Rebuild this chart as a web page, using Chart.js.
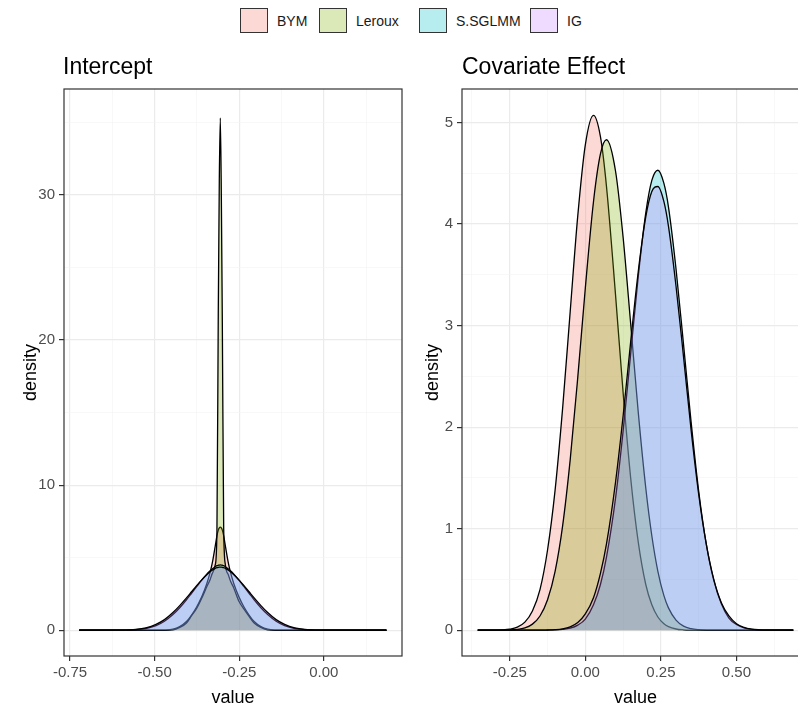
<!DOCTYPE html>
<html>
<head>
<meta charset="utf-8">
<script src="https://cdn.jsdelivr.net/npm/chart.js@4.4.1/dist/chart.umd.min.js"></script>
<style>
  html, body { margin: 0; padding: 0; width: 798px; height: 707px; overflow: hidden; background: #fff; }
  body { position: relative; font-family: "Liberation Sans", Arial, sans-serif; }
  .legend-item { position: absolute; top: 8px; display: flex; align-items: center; }
  .legend-key { width: 28px; height: 25px; box-sizing: border-box; border: 1.3px solid #333; }
  .legend-label { margin-left: 9px; font-size: 14px; color: #1a1a1a; white-space: nowrap; }
  .panel { position: absolute; top: 0; width: 410px; height: 707px; }
</style>
</head>
<body>
<div id="legend"></div>
<div class="panel" style="left:0"><canvas id="intercept"></canvas></div>
<div class="panel" style="left:410px"><canvas id="covariate"></canvas></div>

<script>
// Posterior density curves for two model parameters under four spatial models.
const seriesNames = ['BYM', 'Leroux', 'S.SGLMM', 'IG'];
const seriesFills = [
  'rgba(248,118,109,0.28)',
  'rgba(124,174,0,0.28)',
  'rgba(0,191,196,0.28)',
  'rgba(199,124,255,0.28)'
];

// Intercept: evaluation grid and density per model
const interceptX = [-0.723, -0.586, -0.556, -0.526, -0.496, -0.471, -0.446, -0.426, -0.406, -0.391,
  -0.376, -0.361, -0.346, -0.336, -0.330, -0.321, -0.316, -0.312, -0.309, -0.306,
  -0.303, -0.300, -0.296, -0.291, -0.282, -0.276, -0.266, -0.251, -0.236, -0.221,
  -0.206, -0.186, -0.166, -0.141, -0.116, -0.086, -0.056, -0.026, 0.185];
const interceptBYM = [0, 0, 0, 0, 0, 0.01, 0.07, 0.25, 0.6, 1.05,
  1.6, 2.3, 3.2, 4.0, 4.6, 5.8, 6.5, 6.9, 7.05, 7.1,
  7.05, 6.9, 6.5, 5.8, 4.6, 4.0, 3.2, 2.3, 1.6, 1.05,
  0.6, 0.25, 0.07, 0.01, 0, 0, 0, 0, 0];
const interceptLeroux = [0, 0, 0, 0, 0, 0, 0.03, 0.2, 0.5, 1.0,
  1.5, 2.2, 3.0, 3.5, 3.9, 4.5, 6.8, 22, 31, 35.3,
  30, 21, 7.0, 4.5, 3.8, 3.4, 2.9, 2.0, 1.45, 0.95,
  0.5, 0.2, 0.03, 0, 0, 0, 0, 0, 0];
const interceptSSGLMM = [0, 0.005, 0.035, 0.12, 0.32, 0.62, 1.08, 1.55, 2.1, 2.55,
  3.0, 3.45, 3.87, 4.1, 4.22, 4.38, 4.45, 4.48, 4.495, 4.5,
  4.495, 4.48, 4.45, 4.38, 4.22, 4.1, 3.87, 3.45, 3.0, 2.55,
  2.1, 1.55, 1.08, 0.62, 0.32, 0.12, 0.035, 0.005, 0];
const interceptIG = [0, 0.01, 0.05, 0.16, 0.4, 0.73, 1.22, 1.7, 2.23, 2.65,
  3.07, 3.47, 3.83, 4.03, 4.13, 4.26, 4.31, 4.34, 4.348, 4.35,
  4.348, 4.34, 4.31, 4.26, 4.13, 4.03, 3.83, 3.47, 3.07, 2.65,
  2.23, 1.7, 1.22, 0.73, 0.4, 0.16, 0.05, 0.01, 0];

// Covariate effect: evaluation grid and density per model
const covariateX = [-0.356, -0.325, -0.30, -0.275, -0.25, -0.225, -0.20, -0.175, -0.15, -0.125,
  -0.10, -0.075, -0.05, -0.025, 0, 0.027, 0.05, 0.07, 0.10, 0.125,
  0.15, 0.175, 0.20, 0.22, 0.24, 0.26, 0.275, 0.30, 0.325, 0.35,
  0.375, 0.40, 0.425, 0.45, 0.475, 0.50, 0.525, 0.55, 0.575, 0.60, 0.688];
const covariateBYM = [0, 0, 0.001, 0.003, 0.01, 0.03, 0.08, 0.19, 0.40, 0.79,
  1.38, 2.19, 3.14, 4.08, 4.78, 5.07, 4.86, 4.37, 3.30, 2.34,
  1.50, 0.87, 0.45, 0.25, 0.13, 0.063, 0.035, 0.012, 0.004, 0.001,
  0, 0, 0, 0, 0, 0, 0, 0, 0, 0, 0];
const covariateLeroux = [0, 0, 0, 0.001, 0.003, 0.008, 0.023, 0.06, 0.14, 0.30,
  0.58, 1.03, 1.68, 2.49, 3.37, 4.22, 4.69, 4.83, 4.52, 3.87,
  3.02, 2.15, 1.40, 0.93, 0.58, 0.34, 0.22, 0.10, 0.04, 0.015,
  0.005, 0.001, 0, 0, 0, 0, 0, 0, 0, 0, 0];
const covariateSSGLMM = [0, 0, 0, 0, 0, 0, 0, 0, 0, 0.001,
  0.003, 0.008, 0.02, 0.05, 0.11, 0.25, 0.45, 0.72, 1.30, 1.96,
  2.72, 3.48, 4.11, 4.43, 4.53, 4.40, 4.17, 3.56, 2.81, 2.05,
  1.37, 0.85, 0.49, 0.26, 0.12, 0.056, 0.023, 0.009, 0.003, 0.001, 0];
const covariateIG = [0, 0, 0, 0, 0, 0, 0, 0, 0, 0.002,
  0.005, 0.013, 0.033, 0.075, 0.16, 0.32, 0.56, 0.85, 1.46, 2.11,
  2.84, 3.53, 4.07, 4.32, 4.37, 4.22, 3.98, 3.39, 2.69, 1.97,
  1.34, 0.85, 0.50, 0.27, 0.14, 0.064, 0.028, 0.011, 0.004, 0.001, 0];

// Labelled tick values
const interceptXTicks = [-0.75, -0.5, -0.25, 0];
const interceptYTicks = [0, 10, 20, 30];
const covariateXTicks = [-0.25, 0, 0.25, 0.5];
const covariateYTicks = [0, 1, 2, 3, 4, 5];

const FONT = '"Liberation Sans", Arial, sans-serif';
Chart.defaults.font.family = FONT;

// Legend (shared by both panels)
const legendLeft = [240, 319, 419, 530];
const legendEl = document.getElementById('legend');
seriesNames.forEach((name, i) => {
  const item = document.createElement('div');
  item.className = 'legend-item';
  item.style.left = legendLeft[i] + 'px';
  const key = document.createElement('div');
  key.className = 'legend-key';
  key.style.background = seriesFills[i];
  const lab = document.createElement('span');
  lab.className = 'legend-label';
  lab.textContent = name;
  item.appendChild(key);
  item.appendChild(lab);
  legendEl.appendChild(item);
});

// Major ticks plus half-step minor grid positions inside [min, max]
function withMinors(majors, min, max) {
  const step = majors[1] - majors[0];
  const out = [];
  const start = majors[0] - step;
  const end = majors[majors.length - 1] + step;
  for (let k = 0; start + k * step / 2 <= end + 1e-9; k++) {
    const v = Math.round((start + k * step / 2) * 1e6) / 1e6;
    if (v >= min - 1e-9 && v <= max + 1e-9) out.push(v);
  }
  return out;
}
function isMajor(v, majors) {
  return majors.some(m => Math.abs(m - v) < 1e-9);
}

// Panel border and panel title
const panelDecor = {
  id: 'panelDecor',
  afterDatasetsDraw(chart, args, opts) {
    const { ctx, chartArea: a } = chart;
    ctx.save();
    ctx.strokeStyle = '#333333';
    ctx.lineWidth = 1.2;
    ctx.strokeRect(a.left, a.top, a.right - a.left, a.bottom - a.top);
    ctx.restore();
  },
  afterDraw(chart, args, opts) {
    const { ctx, chartArea: a } = chart;
    ctx.save();
    ctx.font = '23px ' + FONT;
    ctx.fillStyle = '#000';
    ctx.textAlign = 'left';
    ctx.textBaseline = 'alphabetic';
    ctx.fillText(opts.text, a.left + opts.dx, 74);
    ctx.restore();
  }
};

function gridOpts(majors) {
  return {
    color: c => isMajor(c.tick.value, majors) ? '#EBEBEB' : '#F3F3F3',
    lineWidth: c => isMajor(c.tick.value, majors) ? 1.2 : 0.6,
    tickLength: 5,
    tickColor: c => isMajor(c.tick.value, majors) ? '#333333' : 'rgba(0,0,0,0)',
    tickWidth: 1.2
  };
}

function makePanel(id, cfg) {
  const series = cfg.series;
  const datasets = series.map((ys, i) => ({
    label: seriesNames[i],
    data: cfg.xs.map((x, j) => ({ x: x, y: ys[j] })),
    borderColor: '#000',
    borderWidth: 1.3,
    backgroundColor: seriesFills[i],
    fill: 'origin',
    pointRadius: 0,
    pointHoverRadius: 0,
    cubicInterpolationMode: 'monotone',
    order: series.length - i
  }));
  return new Chart(document.getElementById(id), {
    type: 'line',
    data: { datasets },
    plugins: [panelDecor],
    options: {
      responsive: true,
      maintainAspectRatio: false,
      devicePixelRatio: 1,
      animation: false,
      events: [],
      layout: { padding: { top: 89, bottom: 0, left: 0, right: cfg.padRight } },
      plugins: {
        legend: { display: false },
        tooltip: { enabled: false },
        panelDecor: { text: cfg.title, dx: cfg.titleDx }
      },
      scales: {
        x: {
          type: 'linear',
          min: cfg.xMin,
          max: cfg.xMax,
          afterBuildTicks: s => { s.ticks = withMinors(cfg.xTicks, cfg.xMin, cfg.xMax).map(v => ({ value: v })); },
          afterFit: s => { s.height = 51; },
          ticks: {
            autoSkip: false,
            maxRotation: 0,
            padding: 3,
            color: '#4D4D4D',
            font: { family: FONT, size: 15 },
            callback: v => isMajor(v, cfg.xTicks) ? Number(v).toFixed(2) : ''
          },
          grid: gridOpts(cfg.xTicks),
          border: { display: false },
          title: {
            display: true, text: 'value', color: '#000',
            font: { family: FONT, size: 18, lineHeight: 1 },
            padding: { top: 0, bottom: 0 }
          }
        },
        y: {
          type: 'linear',
          min: cfg.yMin,
          max: cfg.yMax,
          afterBuildTicks: s => { s.ticks = withMinors(cfg.yTicks, cfg.yMin, cfg.yMax).map(v => ({ value: v })); },
          afterFit: s => { s.width = cfg.yWidth; },
          ticks: {
            autoSkip: false,
            padding: 4,
            color: '#4D4D4D',
            font: { family: FONT, size: 15 },
            callback: v => isMajor(v, cfg.yTicks) ? String(v) : ''
          },
          grid: gridOpts(cfg.yTicks),
          border: { display: false },
          title: {
            display: true, text: 'density', color: '#000',
            font: { family: FONT, size: 18, lineHeight: 1.2 },
            padding: { top: cfg.yTitlePad, bottom: 0 }
          }
        }
      }
    }
  });
}

makePanel('intercept', {
  title: 'Intercept', titleDx: -1,
  xs: interceptX,
  series: [interceptBYM, interceptLeroux, interceptSSGLMM, interceptIG],
  xMin: -0.768, xMax: 0.231, yMin: -1.775, yMax: 37.3,
  xTicks: interceptXTicks, yTicks: interceptYTicks,
  yWidth: 64, yTitlePad: 20, padRight: 8
});

makePanel('covariate', {
  title: 'Covariate Effect', titleDx: 0,
  xs: covariateX,
  series: [covariateBYM, covariateLeroux, covariateSSGLMM, covariateIG],
  xMin: -0.408, xMax: 0.740, yMin: -0.254, yMax: 5.33,
  xTicks: covariateXTicks, yTicks: covariateYTicks,
  yWidth: 52, yTitlePad: 12, padRight: 11
});
</script>
</body>
</html>
